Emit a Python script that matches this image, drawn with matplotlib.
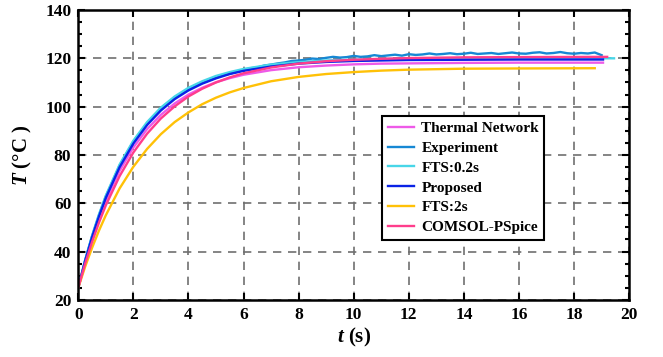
import matplotlib
matplotlib.use('Agg')
import matplotlib.pyplot as plt
from matplotlib.ticker import MultipleLocator

plt.rcParams['font.family'] = 'Liberation Serif'
plt.rcParams['font.weight'] = 'bold'
plt.rcParams['mathtext.fontset'] = 'custom'
plt.rcParams['mathtext.it'] = 'Liberation Serif:bold:italic'
plt.rcParams['mathtext.rm'] = 'Liberation Serif:bold'

# smooth curves share one time grid, last point is where each line stops
t_base = [0, 0.25, 0.5, 0.75, 1, 1.5, 2, 2.5, 3, 3.5, 4, 4.5, 5, 5.5, 6,
          7, 8, 9, 10, 11, 12, 14, 16]

thermal = [25, 35.7, 45.2, 53.6, 61.0, 73.4, 83.1, 90.7, 96.6, 101.3, 105.0,
           107.8, 110.1, 111.8, 113.2, 115.1, 116.3, 117.0, 117.5, 117.8,
           117.9, 118.1, 118.2, 118.2]
thermal_t = t_base + [19.05]

fts02 = [25, 36.4, 46.5, 55.3, 63.1, 76.0, 85.9, 93.6, 99.6, 104.2, 107.8,
         110.5, 112.7, 114.3, 115.6, 117.4, 118.4, 119.1, 119.4, 119.7,
         119.8, 119.9, 120.0, 120.0]
fts02_t = t_base + [19.45]

proposed = [25, 36.1, 45.9, 54.5, 62.2, 74.9, 84.7, 92.4, 98.4, 103.1, 106.7,
            109.5, 111.7, 113.5, 114.8, 116.6, 117.8, 118.5, 118.9, 119.1,
            119.3, 119.4, 119.5, 119.5]
proposed_t = t_base + [19.05]

fts2 = [25, 33.7, 41.5, 48.6, 55.0, 66.1, 75.1, 82.5, 88.6, 93.6, 97.6,
        101.0, 103.7, 105.9, 107.7, 110.5, 112.3, 113.5, 114.3, 114.9,
        115.3, 115.7, 115.8, 115.9]
fts2_t = t_base + [18.75]

comsol = [25, 35.0, 43.9, 51.9, 59.1, 71.2, 81.0, 88.8, 95.1, 100.1, 104.2,
          107.4, 110.0, 112.1, 113.8, 116.2, 117.8, 118.8, 119.4, 119.8,
          120.1, 120.4, 120.5, 120.6]
comsol_t = t_base + [19.2]

# measured curve, read at 0.25 s from 4 s on
exp_t = [0, 0.25, 0.5, 0.75, 1, 1.5, 2, 2.5, 3, 3.5] + [4 + 0.25 * i for i in range(61)]
experiment = [25, 36.3, 46.3, 55.0, 62.8, 75.6, 85.5, 93.2, 99.3, 103.8,
              107.0, 108.5, 109.8, 110.9, 111.9, 113.0, 113.6, 114.4, 115.1,
              115.9, 116.2, 117.0, 117.4, 117.9, 118.3, 118.9, 119.1, 119.4,
              119.9, 119.7, 120.2, 120.6, 120.3, 120.5, 121.0, 120.6,
              120.8, 121.3, 120.9, 121.2, 121.5, 121.1, 121.7, 121.4, 121.6,
              122.0, 121.6, 121.8, 122.1, 121.7, 121.9, 122.3, 121.8, 122.0,
              122.2, 121.8, 122.1, 122.4, 122.0, 121.9, 122.3, 122.5, 122.0,
              122.2, 122.6, 122.1, 121.9, 122.2, 122.0, 122.4, 121.3]

labels = ['Thermal Network', 'Experiment', 'FTS:0.2s', 'Proposed', 'FTS:2s',
          'COMSOL-PSpice']
colors = ['#EE5AE8', '#1688D4', '#48D6E8', '#0A22E6', '#FFC107', '#FF3D8C']

fig = plt.figure(figsize=(6.63, 3.57), dpi=100)
ax = fig.add_axes([0.118, 0.16, 0.831, 0.812])

series = [(thermal_t, thermal), (exp_t, experiment), (fts02_t, fts02),
          (proposed_t, proposed), (fts2_t, fts2), (comsol_t, comsol)]
for (tt, yy), lab, c in zip(series, labels, colors):
    ax.plot(tt, yy, color=c, lw=1.7, label=lab)

ax.set_xlim(0, 20)
ax.set_ylim(20, 140)
ax.xaxis.set_major_locator(MultipleLocator(2))
ax.yaxis.set_major_locator(MultipleLocator(20))
ax.yaxis.set_minor_locator(MultipleLocator(5))
ax.tick_params(which='both', direction='in', top=True, right=True,
               labelsize=12.5, width=1.5)
ax.tick_params(which='major', length=5, pad=5)
ax.tick_params(which='minor', length=3)
for lab in ax.get_xticklabels() + ax.get_yticklabels():
    lab.set_fontweight('bold')
for s in ax.spines.values():
    s.set_linewidth(1.8)
ax.grid(True, which='major', color='#707070', ls=(0, (5, 4)), lw=1.2)
ax.set_axisbelow(True)

ax.set_xlabel('$t$ (s)', fontsize=15, fontweight='bold', labelpad=2)
ax.set_ylabel('$T$ (°C )', fontsize=15, fontweight='bold', labelpad=8)

leg = ax.legend(loc='upper left', bbox_to_anchor=(0.552, 0.634),
                prop={'size': 11, 'weight': 'bold'},
                frameon=True, fancybox=False, handlelength=1.7,
                borderpad=0.35, labelspacing=0.4, handletextpad=0.5,
                borderaxespad=0)
leg.get_frame().set_edgecolor('black')
leg.get_frame().set_linewidth(1.5)
leg.get_frame().set_alpha(1)

fig.savefig('out.png', dpi=100)
